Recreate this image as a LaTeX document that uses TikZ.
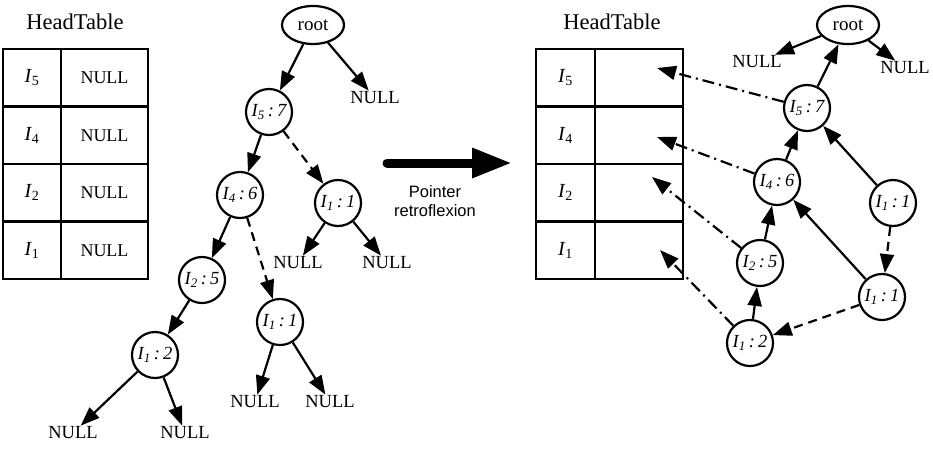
\documentclass[tikz,border=0pt]{standalone}
\usepackage{fontspec}
\setmainfont{Liberation Serif}
\newfontfamily\labelsans{Liberation Sans}
\usetikzlibrary{arrows.meta,calc,shapes.geometric}
\begin{document}
\begin{tikzpicture}[x=1pt,y=-1pt,
  tn/.style={circle,draw,line width=2.2pt,minimum size=46pt,inner sep=0pt,font=\fontsize{18.5}{18.5}\selectfont\itshape},
  rt/.style={ellipse,draw,line width=2.2pt,minimum width=62pt,minimum height=38pt,inner sep=0pt,font=\fontsize{19}{19}\selectfont},
  nl/.style={inner sep=1pt,font=\fontsize{18.5}{18.5}\selectfont},
  cell/.style={draw,line width=2.4pt,minimum height=57.5pt,inner sep=0pt,font=\fontsize{20}{20}\selectfont},
  arr/.style={line width=2.2pt,-{Triangle[length=19pt,width=14pt]}},
  dsh/.style={arr,dash pattern=on 9pt off 6pt},
  dd/.style={arr,dash pattern=on 12pt off 5pt on 2pt off 5pt},
  ht/.style={font=\fontsize{22.5}{22.5}\selectfont}]
\useasboundingbox (0,0) rectangle (933,448);
% ---------- left table ----------
\node[ht] (htL) at (75,22) {HeadTable};
\node[cell,minimum width=58pt] (L5a) at (32,77.75) {\textit{I}\textsubscript{5}};
\node[cell,minimum width=87pt] (L5b) at (104.5,77.75) {\fontsize{18}{18}\selectfont NULL};
\node[cell,minimum width=58pt] (L4a) at (32,135.25) {\textit{I}\textsubscript{4}};
\node[cell,minimum width=87pt] (L4b) at (104.5,135.25) {\fontsize{18}{18}\selectfont NULL};
\node[cell,minimum width=58pt] (L2a) at (32,192.75) {\textit{I}\textsubscript{2}};
\node[cell,minimum width=87pt] (L2b) at (104.5,192.75) {\fontsize{18}{18}\selectfont NULL};
\node[cell,minimum width=58pt] (L1a) at (32,250.25) {\textit{I}\textsubscript{1}};
\node[cell,minimum width=87pt] (L1b) at (104.5,250.25) {\fontsize{18}{18}\selectfont NULL};
% ---------- left tree ----------
\node[rt] (rootL) at (313,25) {root};
\node[nl] (n0) at (375,98) {NULL};
\node[tn] (a57) at (269,112) {I\textsubscript{5}\,:\,7};
\node[tn] (a46) at (240,195) {I\textsubscript{4}\,:\,6};
\node[tn] (a11) at (338,203) {I\textsubscript{1}\,:\,1};
\node[nl] (nA) at (298,263) {NULL};
\node[nl] (nB) at (387,263) {NULL};
\node[tn] (a25) at (202,280) {I\textsubscript{2}\,:\,5};
\node[tn] (b11) at (280,322) {I\textsubscript{1}\,:\,1};
\node[tn] (a12) at (155,355) {I\textsubscript{1}\,:\,2};
\node[nl] (nC) at (255,402) {NULL};
\node[nl] (nD) at (330,402) {NULL};
\node[nl] (nE) at (73,433) {NULL};
\node[nl] (nF) at (185,433) {NULL};
\draw[arr] (rootL) -- (a57);
\draw[arr] (rootL) -- (n0);
\draw[arr] (a57) -- (a46);
\draw[dsh] (a57) -- (a11);
\draw[arr] (a46) -- (a25);
\draw[dsh] (a46) -- (b11);
\draw[arr] (a11) -- (nA);
\draw[arr] (a11) -- (nB);
\draw[arr] (a25) -- (a12);
\draw[arr] (a12) -- (nE);
\draw[arr] (a12) -- (nF);
\draw[arr] (b11) -- (nC);
\draw[arr] (b11) -- (nD);
% ---------- big arrow ----------
\coordinate (bigS) at (387,163);
\coordinate (bigE) at (512,163);
\draw[line width=9pt,line cap=round,-{Triangle[length=40pt,width=28pt]}] (bigS) -- (bigE);
\node[font=\labelsans\fontsize{16.5}{16.5}\selectfont,align=center] (ptxt) at (435,201) {Pointer\\[2pt]retroflexion};
% ---------- right table ----------
\node[ht] (htR) at (612,22) {HeadTable};
\node[cell,minimum width=59pt] (R5a) at (565.5,77.75) {\textit{I}\textsubscript{5}};
\node[cell,minimum width=88pt] (R5b) at (639,77.75) {};
\node[cell,minimum width=59pt] (R4a) at (565.5,135.25) {\textit{I}\textsubscript{4}};
\node[cell,minimum width=88pt] (R4b) at (639,135.25) {};
\node[cell,minimum width=59pt] (R2a) at (565.5,192.75) {\textit{I}\textsubscript{2}};
\node[cell,minimum width=88pt] (R2b) at (639,192.75) {};
\node[cell,minimum width=59pt] (R1a) at (565.5,250.25) {\textit{I}\textsubscript{1}};
\node[cell,minimum width=88pt] (R1b) at (639,250.25) {};
\coordinate (t5) at (657,68);
\coordinate (t4) at (657,137);
\coordinate (t2) at (652,177);
\coordinate (t1) at (660,250);
% ---------- right tree ----------
\node[rt] (rootR) at (848,25) {root};
\node[nl] (nG) at (757,62) {NULL};
\node[nl] (nH) at (905,68) {NULL};
\node[tn] (r57) at (807,108) {I\textsubscript{5}\,:\,7};
\node[tn] (r46) at (777,182) {I\textsubscript{4}\,:\,6};
\node[tn] (r11) at (893,203) {I\textsubscript{1}\,:\,1};
\node[tn] (r25) at (760,263) {I\textsubscript{2}\,:\,5};
\node[tn] (s11) at (882,297) {I\textsubscript{1}\,:\,1};
\node[tn] (r12) at (750,343) {I\textsubscript{1}\,:\,2};
\draw[arr] (rootR) -- (nG);
\draw[arr] (rootR) -- (nH);
\draw[arr] (r57) -- (rootR);
\draw[arr] (r46) -- (r57);
\draw[arr] (r25) -- (r46);
\draw[arr] (r12) -- (r25);
\draw[arr] (s11) -- (r46);
\draw[arr] (r11) -- (r57);
\draw[dsh] (r11) -- (s11);
\draw[dsh] (s11) -- (r12);
\draw[dd] (r57) -- (t5);
\draw[dd] (r46) -- (t4);
\draw[dd] (r25) -- (t2);
\draw[dd] (r12) -- (t1);
\end{tikzpicture}
\end{document}
